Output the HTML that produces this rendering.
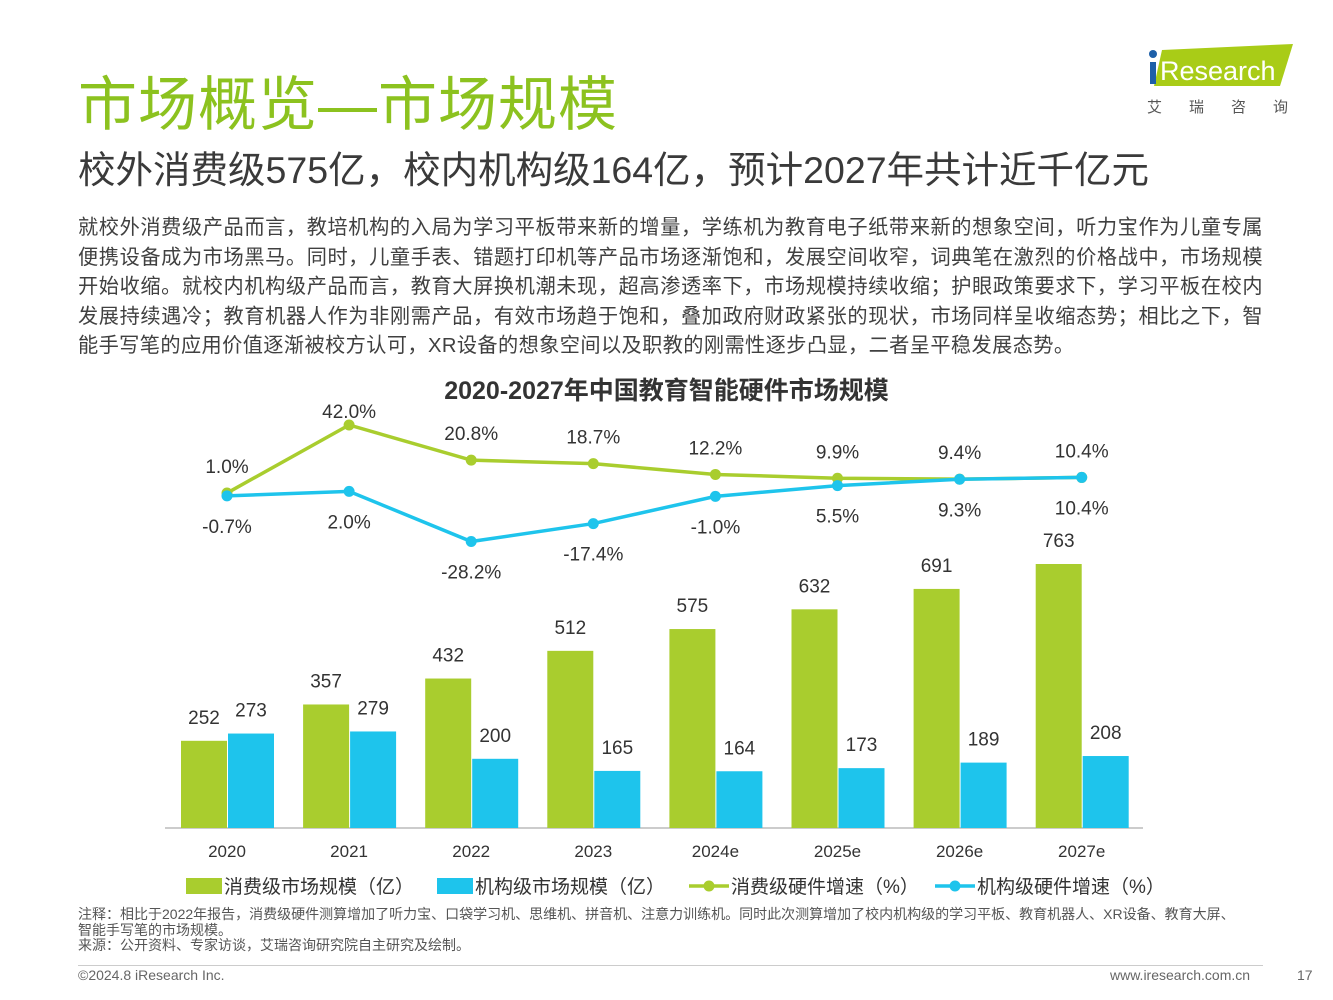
<!DOCTYPE html>
<html><head><meta charset="utf-8"><style>
body{margin:0;width:1333px;height:1000px;background:#fff;position:relative;overflow:hidden;font-family:"Liberation Sans","Noto Sans CJK SC",sans-serif;color:#333}
.a{position:absolute;white-space:nowrap}
</style></head><body>
<div class="a" style="left:78px;top:57px;font-size:59px;color:#8cc21f;letter-spacing:1px">市场概览—市场规模</div>
<div class="a" style="left:78px;top:139px;font-size:37.5px;color:#3a3a3a">校外消费级575亿，校内机构级164亿，预计2027年共计近千亿元</div>
<div class="a" style="left:78px;top:214px;width:1185px;font-size:20.2px;letter-spacing:0.4px;line-height:29.6px;white-space:normal;color:#404040;text-align:justify">就校外消费级产品而言，教培机构的入局为学习平板带来新的增量，学练机为教育电子纸带来新的想象空间，听力宝作为儿童专属便携设备成为市场黑马。同时，儿童手表、错题打印机等产品市场逐渐饱和，发展空间收窄，词典笔在激烈的价格战中，市场规模开始收缩。就校内机构级产品而言，教育大屏换机潮未现，超高渗透率下，市场规模持续收缩；护眼政策要求下，学习平板在校内发展持续遇冷；教育机器人作为非刚需产品，有效市场趋于饱和，叠加政府财政紧张的现状，市场同样呈收缩态势；相比之下，智能手写笔的应用价值逐渐被校方认可，XR设备的想象空间以及职教的刚需性逐步凸显，二者呈平稳发展态势。</div>
<div>
<svg class="a" style="left:1140px;top:42px" width="160" height="50"><polygon points="22,8 153,2 140,44 14,44" fill="#a9cc17"/><rect x="10" y="20" width="6" height="22" fill="#1d5fa8"/><circle cx="13" cy="12" r="4" fill="#1d5fa8"/><text x="20" y="38" font-size="27" fill="#fff" font-family="Liberation Sans">Research</text></svg>
<div class="a" style="left:1147px;top:96px;font-size:15px;color:#555;letter-spacing:27px">艾瑞咨询</div>
</div>
<div class="a" style="left:0;width:1333px;text-align:center;top:371px;font-size:25px;font-weight:bold;color:#333">2020-2027年中国教育智能硬件市场规模</div>
<svg class="a" id="chart" style="left:0;top:0" width="1333" height="1000"></svg>
<div class="a" style="left:78px;top:907px;width:1168px;white-space:normal;font-size:14px;line-height:15.5px;color:#555">注释：相比于2022年报告，消费级硬件测算增加了听力宝、口袋学习机、思维机、拼音机、注意力训练机。同时此次测算增加了校内机构级的学习平板、教育机器人、XR设备、教育大屏、智能手写笔的市场规模。<br>来源：公开资料、专家访谈，艾瑞咨询研究院自主研究及绘制。</div>
<div class="a" style="left:78px;top:965px;width:1185px;border-top:1px solid #ccc"></div>
<div class="a" style="left:78px;top:967px;font-size:14px;color:#666">©2024.8 iResearch Inc.</div>
<div class="a" style="left:1110px;top:967px;font-size:14px;color:#666">www.iresearch.com.cn</div>
<div class="a" style="left:1297px;top:967px;font-size:14px;color:#666">17</div>
<script>
const categories=["2020","2021","2022","2023","2024e","2025e","2026e","2027e"];
const consumerSize=[252,357,432,512,575,632,691,763];
const institutionSize=[273,279,200,165,164,173,189,208];
const consumerGrowth=[1.0,42.0,20.8,18.7,12.2,9.9,9.4,10.4];
const institutionGrowth=[-0.7,2.0,-28.2,-17.4,-1.0,5.5,9.3,10.4];
const G="#a9cd2e",B="#1ec4ec",NS="http://www.w3.org/2000/svg";
const svg=document.getElementById('chart');
const xC=i=>227+i*122.1;
const yBar=v=>828-v*0.346;
const yPct=v=>494.7-v*1.66;
function mk(t,a,txt){const e=document.createElementNS(NS,t);for(const k in a)e.setAttribute(k,a[k]);if(txt!=null)e.textContent=txt;svg.appendChild(e);return e;}
const base=mk('line',{x1:165,x2:1143,y1:828,y2:828,stroke:'#bbb','stroke-width':1.5});


categories.forEach((c,i)=>{
 const x=xC(i);
 let r=mk('rect',{x:x-46,y:yBar(consumerSize[i]),width:46,height:828-yBar(consumerSize[i]),fill:G});
 
 
 r=mk('rect',{x:x+1,y:yBar(institutionSize[i]),width:46,height:828-yBar(institutionSize[i]),fill:B});
 
 
 mk('text',{x:x-23,y:yBar(consumerSize[i])-17,'text-anchor':'middle','font-size':19,fill:'#333'},consumerSize[i]);
 mk('text',{x:x+24,y:yBar(institutionSize[i])-17,'text-anchor':'middle','font-size':19,fill:'#333'},institutionSize[i]);
 const t=mk('text',{x:x,y:857,'text-anchor':'middle','font-size':17,fill:'#333'},c);
 
 
 mk('text',{x:x,y:Math.max(yPct(consumerGrowth[i])-20,418),'text-anchor':'middle','font-size':19,fill:'#333'},consumerGrowth[i].toFixed(1)+'%');
 mk('text',{x:x,y:yPct(institutionGrowth[i])+37,'text-anchor':'middle','font-size':19,fill:'#333'},institutionGrowth[i].toFixed(1)+'%');
});
[[consumerGrowth,G,'line-consumer-growth'],[institutionGrowth,B,'line-institution-growth']].forEach(([d,col,n])=>{
 const p=mk('polyline',{points:d.map((v,i)=>xC(i)+','+yPct(v)).join(' '),fill:'none',stroke:col,'stroke-width':3.5});
 
 
 d.forEach((v,i)=>{const c=mk('circle',{cx:xC(i),cy:yPct(v),r:5.5,fill:col});
 
 });
});
const leg=[['rect',G,'消费级市场规模（亿）',186],['rect',B,'机构级市场规模（亿）',437],['line',G,'消费级硬件增速（%）',689],['line',B,'机构级硬件增速（%）',935]];
leg.forEach(([k,col,txt,x])=>{
 if(k==='rect'){mk('rect',{x:x,y:878,width:36,height:16,fill:col});}
 else{mk('line',{x1:x,x2:x+40,y1:886,y2:886,stroke:col,'stroke-width':3.5});mk('circle',{cx:x+20,cy:886,r:5.5,fill:col});}
 const t=mk('text',{x:x+(k==='rect'?38:42),y:893,'font-size':19,fill:'#333'},txt);
 
 
});
</script>
</body></html>
